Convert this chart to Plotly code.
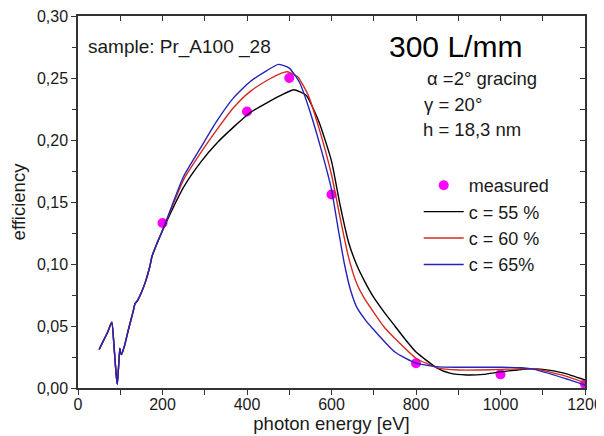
import plotly.graph_objects as go

# measured data
meas_x = [200, 400, 500, 600, 800, 1000, 1200]
meas_y = [0.133, 0.223, 0.250, 0.156, 0.020, 0.011, 0.003]

# common low-energy part of all simulations
low_x = [50, 60, 70, 80, 85, 90, 93, 96, 99, 101, 103, 110, 120, 130, 135, 140, 150, 160, 170, 175, 185]
low_y = [0.031, 0.038, 0.045, 0.053, 0.035, 0.012, 0.003, 0.017, 0.032, 0.028, 0.027, 0.034, 0.048, 0.061, 0.068, 0.070, 0.077, 0.086, 0.098, 0.106, 0.115]

c55_x = [200, 250, 290, 330, 370, 407, 447, 480, 511, 540, 570, 600, 620, 640, 660, 680, 700, 725, 750, 775, 800, 850, 880, 920, 960, 1000, 1040, 1070, 1100, 1150, 1200]
c55_y = [0.127, 0.162, 0.182, 0.198, 0.211, 0.222, 0.230, 0.236, 0.2405, 0.236, 0.215, 0.183, 0.148, 0.118, 0.099, 0.085, 0.073, 0.061, 0.050, 0.039, 0.029, 0.016, 0.012, 0.0105, 0.011, 0.013, 0.0145, 0.0155, 0.015, 0.012, 0.0065]

c60_x = [200, 250, 289, 328, 368, 407, 447, 475, 495, 520, 545, 570, 600, 620, 640, 660, 680, 700, 725, 750, 800, 853, 900, 950, 1000, 1050, 1080, 1150, 1200]
c60_y = [0.127, 0.168, 0.189, 0.208, 0.226, 0.239, 0.248, 0.253, 0.255, 0.251, 0.236, 0.210, 0.172, 0.138, 0.106, 0.084, 0.071, 0.061, 0.049, 0.040, 0.024, 0.016, 0.0145, 0.0145, 0.015, 0.0155, 0.0155, 0.010, 0.0043]

c65_x = [200, 249, 289, 328, 368, 407, 447, 474, 500, 525, 550, 575, 600, 615, 630, 645, 660, 680, 700, 750, 800, 853, 900, 1000, 1050, 1080, 1150, 1200]
c65_y = [0.127, 0.170, 0.193, 0.215, 0.234, 0.247, 0.256, 0.261, 0.258, 0.246, 0.222, 0.193, 0.160, 0.130, 0.101, 0.079, 0.065, 0.055, 0.047, 0.029, 0.020, 0.017, 0.0167, 0.0167, 0.0163, 0.015, 0.008, 0.0024]

FONT = "Liberation Sans, Arial, sans-serif"

fig = go.Figure()
fig.add_trace(go.Scatter(x=meas_x, y=meas_y, mode="markers", name="measured",
                         marker=dict(color="#ff00ff", size=10)))
for name, xs, ys, col in [("c = 55 %", c55_x, c55_y, "#000000"),
                          ("c = 60 %", c60_x, c60_y, "#d42a22"),
                          ("c = 65%", c65_x, c65_y, "#2424b8")]:
    fig.add_trace(go.Scatter(x=low_x + xs, y=low_y + ys, mode="lines", name=name,
                             line=dict(color=col, width=1.4, shape="spline", smoothing=0.5)))

# dummy trace to anchor mirrored axes
fig.add_trace(go.Scatter(x=[None], y=[None], xaxis="x2", yaxis="y2", showlegend=False, hoverinfo="skip"))

axcol = "#333"
# page body has an 8px margin, so the figure is 8px smaller and margins shifted by 8
fig.update_layout(
    width=596, height=428,
    margin=dict(l=70, r=19, t=8, b=48),
    paper_bgcolor="white", plot_bgcolor="white",
    separators=",.",
    font=dict(family=FONT, size=16, color="#1a1a1a"),
    showlegend=True,
    legend=dict(x=0.672, y=0.594, xanchor="left", yanchor="top", bgcolor="rgba(0,0,0,0)",
                font=dict(size=18, family=FONT), tracegroupgap=0, itemwidth=40),
    xaxis=dict(range=[0, 1200], dtick=200, tick0=0, showline=True, linecolor=axcol, linewidth=1.5,
               ticks="outside", ticklen=5, tickcolor=axcol, tickwidth=1.2, showgrid=False, zeroline=False,
               automargin=False, ticklabeloverflow="allow", ticklabelstandoff=-4,
               minor=dict(dtick=100, ticks="outside", ticklen=5, tickcolor=axcol, showgrid=False),
               title=dict(text="photon energy [eV]", font=dict(size=18.5), standoff=4),
               tickfont=dict(size=16)),
    yaxis=dict(range=[0, 0.3], dtick=0.05, tick0=0, tickformat=".2f", showline=True, linecolor=axcol, linewidth=1.5,
               ticks="outside", ticklen=5, tickcolor=axcol, tickwidth=1.2, showgrid=False, zeroline=False,
               automargin=False, ticklabeloverflow="allow",
               minor=dict(dtick=0.025, ticks="outside", ticklen=4, tickcolor=axcol, showgrid=False),
               title=dict(text="efficiency", font=dict(size=18.5), standoff=10),
               tickfont=dict(size=16)),
    xaxis2=dict(range=[0, 1200], overlaying="x", side="top", dtick=100, ticks="inside", ticklen=5,
                tickcolor=axcol, showticklabels=False, showline=True, linecolor=axcol, linewidth=1.5,
                showgrid=False, zeroline=False, automargin=False),
    yaxis2=dict(range=[0, 0.3], overlaying="y", side="right", dtick=0.025, ticks="inside", ticklen=5,
                tickcolor=axcol, showticklabels=False, showline=True, linecolor=axcol, linewidth=1.5,
                showgrid=False, zeroline=False, automargin=False),
    annotations=[
        dict(text="sample: Pr_A100 _28", x=0.016, y=0.917, xref="paper", yref="paper",
             xanchor="left", yanchor="middle", showarrow=False, font=dict(size=19)),
        dict(text="300 L/mm", x=0.609, y=0.917, xref="paper", yref="paper",
             xanchor="left", yanchor="middle", showarrow=False, font=dict(size=30, color="#000")),
        dict(text="α =2° gracing", x=0.684, y=0.833, xref="paper", yref="paper",
             xanchor="left", yanchor="middle", showarrow=False, font=dict(size=18.5)),
        dict(text="γ = 20°", x=0.679, y=0.761, xref="paper", yref="paper",
             xanchor="left", yanchor="middle", showarrow=False, font=dict(size=18.5)),
        dict(text="h = 18,3 nm", x=0.677, y=0.694, xref="paper", yref="paper",
             xanchor="left", yanchor="middle", showarrow=False, font=dict(size=18.5)),
    ],
)

fig.write_html("out.html")
